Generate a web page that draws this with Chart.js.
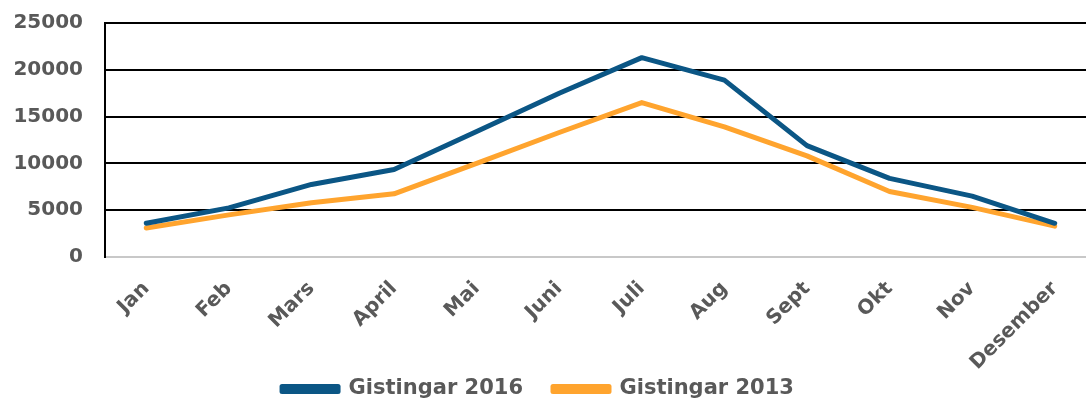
<!DOCTYPE html>
<html>
<head>
<meta charset="utf-8">
<script src="https://cdn.jsdelivr.net/npm/chart.js@4/dist/chart.umd.min.js"></script>
<style>
html,body{margin:0;padding:0;background:#fff;overflow:hidden;width:1086px;height:400px;}
#wrap{position:relative;width:1096px;height:400px;}
</style>
</head>
<body>
<div id="wrap"><canvas id="c"></canvas></div>
<script>
const months = ["Jan","Feb","Mars","April","Mai","Juni","Juli","Aug","Sept","Okt","Nov","Desember"];
const gist2016 = [3600, 5250, 7750, 9350, 13400, 17500, 21300, 18900, 11900, 8400, 6500, 3600];
const gist2013 = [3100, 4500, 5800, 6750, 10000, 13300, 16500, 13900, 10800, 7000, 5300, 3300];
const yTicks = [0, 5000, 10000, 15000, 20000, 25000];

const textColor = '#595959';
const fontFam = '"DejaVu Sans", Verdana, sans-serif';

const layoutTweak = {
  id: 'layoutTweak',
  afterLayout(chart) {
    const l = chart.legend;
    if (l) {
      const pad = l.options.labels.padding;
      const ih = l._itemHeight || 21;
      const dy = 389 - (l.top + pad + ih / 2);
      l.top += dy; l.bottom += dy;
      l.left -= 10; l.right -= 10;
    }
    const x = chart.scales.x;
    if (x) { x.bottom = chart.height; }
  }
};

new Chart(document.getElementById('c'), {
  type: 'line',
  data: {
    labels: months,
    datasets: [
      { label: 'Gistingar 2016', data: gist2016, borderColor: '#0B5685', backgroundColor: '#0B5685',
        borderWidth: 5, pointRadius: 0, tension: 0, borderCapStyle: 'round', borderJoinStyle: 'round' },
      { label: 'Gistingar 2013', data: gist2013, borderColor: '#FFA42E', backgroundColor: '#FFA42E',
        borderWidth: 5, pointRadius: 0, tension: 0, borderCapStyle: 'round', borderJoinStyle: 'round' }
    ]
  },
  options: {
    responsive: true,
    maintainAspectRatio: false,
    animation: false,
    layout: { padding: { top: 0, left: 0, right: 0, bottom: 0 } },
    plugins: {
      tooltip: { enabled: false },
      legend: {
        position: 'bottom',
        labels: {
          color: textColor,
          font: { family: fontFam, size: 21, weight: 'bold' },
          boxWidth: 56,
          boxHeight: 5,
          padding: 30
        }
      }
    },
    scales: {
      x: {
        offset: true,
        grid: { display: false },
        border: { display: false },
        afterFit(axis) {
          const lh = axis.chart.legend ? axis.chart.legend.height : 0;
          axis.height = Math.max(10, 143 - lh);
        },
        ticks: {
          color: textColor,
          font: { family: fontFam, size: 20, weight: 'bold' },
          minRotation: 45, maxRotation: 45, padding: 12, autoSkip: false
        }
      },
      y: {
        min: 0, max: 25000,
        afterBuildTicks(axis) { axis.ticks = yTicks.map(v => ({ value: v })); },
        afterFit(axis) { axis.width = 105; axis.paddingTop = 23; axis.paddingBottom = 12; },
        grid: {
          drawTicks: false,
          lineWidth: 2,
          color: ctx => (ctx.tick && ctx.tick.value === 0) ? '#c8c8c8' : '#000000'
        },
        border: { display: true, color: '#000000', width: 2 },
        ticks: {
          color: textColor,
          padding: 22,
          font: { family: fontFam, size: 20, weight: 'bold' },
          callback: v => String(v)
        }
      }
    }
  },
  plugins: [layoutTweak]
});
</script>
</body>
</html>
